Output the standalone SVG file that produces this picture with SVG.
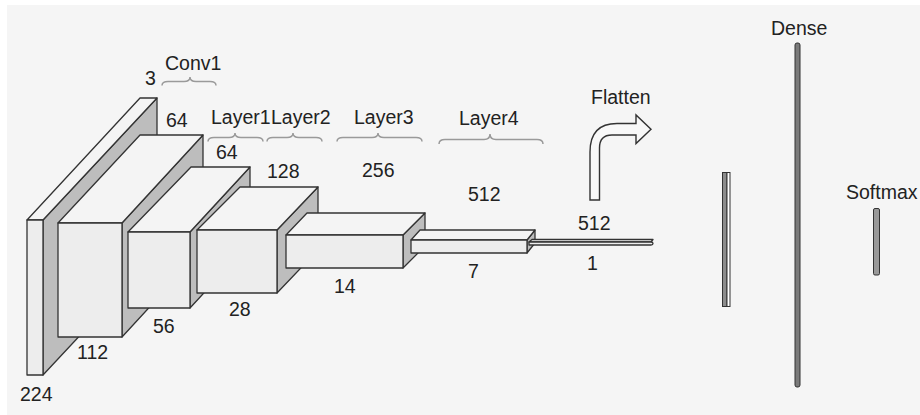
<svg xmlns="http://www.w3.org/2000/svg" width="920" height="415" viewBox="0 0 920 415">
<style>
text{font-family:"Liberation Sans",Arial,sans-serif;font-size:19.5px;fill:#222}
.f{fill:#ededed;stroke:#333;stroke-width:1.3;stroke-linejoin:round}
.t{fill:#f4f4f4;stroke:#333;stroke-width:1.3;stroke-linejoin:round}
.s{fill:#bdbdbd;stroke:#333;stroke-width:1.3;stroke-linejoin:round}
.br{fill:none;stroke:#9a9a9a;stroke-width:1.5}
</style>
<rect x="0" y="0" width="920" height="415" fill="#ffffff"/>
<rect x="7" y="5" width="913" height="410" fill="#f5f5f5"/>

<g id="input">
<polygon class="s" points="43,220 157,98 157,253 43,375"/>
<polygon class="t" points="27,220 140,98 157,98 43,220"/>
<rect class="f" x="27" y="220" width="16" height="155"/>
<text x="20" y="401">224</text>
<text x="145" y="85">3</text>
</g>

<g id="conv1">
<polygon class="s" points="122,223 203,135 203,249 122,337"/>
<polygon class="t" points="58,223 140,135 203,135 122,223"/>
<rect class="f" x="58" y="223" width="64" height="114"/>
<text x="77" y="359">112</text>
<text x="166" y="127">64</text>
<text x="165" y="70">Conv1</text>
</g>

<g id="layer1">
<polygon class="s" points="190,232 250,167 250,243 190,308"/>
<polygon class="t" points="128,232 191,167 250,167 190,232"/>
<rect class="f" x="128" y="232" width="62" height="76"/>
<text x="153" y="333">56</text>
<text x="216" y="159">64</text>
</g>

<g id="layer2">
<polygon class="s" points="277,230 318,187 318,250 277,293"/>
<polygon class="t" points="197,230 240,187 318,187 277,230"/>
<rect class="f" x="197" y="230" width="80" height="63"/>
<text x="229" y="316">28</text>
<text x="267" y="178">128</text>
</g>

<g id="layer3">
<polygon class="s" points="403,235 425,213 425,246 403,268"/>
<polygon class="t" points="286,235 307,213 425,213 403,235"/>
<rect class="f" x="286" y="235" width="117" height="33"/>
<text x="334" y="293">14</text>
<text x="362" y="177">256</text>
</g>

<g id="layer4">
<polygon class="s" points="527,240 535,230 535,243 527,253"/>
<polygon class="t" points="411,240 420,230 535,230 527,240"/>
<rect class="f" x="411" y="240" width="116" height="13"/>
<text x="468" y="278">7</text>
<text x="468" y="201">512</text>
</g>

<g id="flatten">
<polygon class="t" points="529,242 532,239.5 653,239.5 651,242"/>
<path class="f" d="M529,242 L651,242 Q653,242 653,243.5 Q653,245 651,245 L529,245 Z"/>
<text x="578" y="230">512</text>
<text x="587" y="270">1</text>
<path d="M590,200 L590,152 Q590,123.5 617,123.5 L636,123.5 L636,115 L651,129.3 L636,143.5 L636,135 L612,135 Q599.5,135 599.5,148 L599.5,200 Z" fill="#f8f8f8" stroke="#333" stroke-width="1.4" stroke-linejoin="miter"/>
<text x="591" y="104">Flatten</text>
</g>

<g id="fc1">
<rect x="722.5" y="172.5" width="4.5" height="134" fill="#8c8c8c" stroke="#333" stroke-width="1"/>
<rect x="727" y="172.5" width="3" height="134" fill="#ffffff" stroke="#333" stroke-width="1"/>
</g>

<g id="dense">
<rect x="795" y="43" width="5" height="344" rx="2" fill="#7a7a7a" stroke="#333" stroke-width="1"/>
<text x="771" y="35">Dense</text>
</g>

<g id="softmax">
<rect x="873.5" y="208.5" width="6" height="66.5" rx="1.5" fill="#999" stroke="#333" stroke-width="1"/>
<text x="846" y="199">Softmax</text>
</g>

<g id="connectors">
<path class="br" d="M162,85.5 Q162,81.5 168,81.5 L184,81.5 Q190,81.5 190,77 Q190,81.5 196,81.5 L210,81.5 Q216,81.5 216,85.5"/>
<path class="br" d="M208,141.5 Q208,137.5 214,137.5 L229,137.5 Q235,137.5 235,133 Q235,137.5 241,137.5 L257,137.5 Q263,137.5 263,141.5"/>
<path class="br" d="M267,141.5 Q267,137.5 273,137.5 L287,137.5 Q293,137.5 293,133 Q293,137.5 299,137.5 L316,137.5 Q322,137.5 322,141.5"/>
<path class="br" d="M337,141.5 Q337,137.5 343,137.5 L372,137.5 Q378,137.5 378,133 Q378,137.5 384,137.5 L416,137.5 Q422,137.5 422,141.5"/>
<path class="br" d="M439,144 Q439,139.5 445,139.5 L484,139.5 Q490,139.5 490,134 Q490,139.5 496,139.5 L537,139.5 Q543,139.5 543,144"/>
<text x="211" y="124">Layer1</text>
<text x="271" y="124">Layer2</text>
<text x="354" y="124">Layer3</text>
<text x="459" y="125">Layer4</text>
</g>
</svg>
